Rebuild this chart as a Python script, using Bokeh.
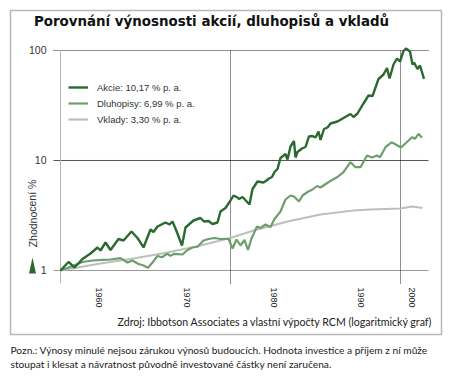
from bokeh.plotting import figure
from bokeh.models import (FixedTicker, Label, Legend, LegendItem, PolyAnnotation)
from bokeh.embed import file_html
from bokeh.resources import INLINE

# ---- data (x = time index, one unit ~ one period of the chart) ----
akcie_t = [0, 1.6, 2.8, 4.4, 6, 7.4, 8, 9, 10, 11.6, 12.6, 14.2, 15.4, 16.6, 18, 18.6, 19.4,
           21, 21.8, 22.4, 23, 24.3, 25, 26.6, 28, 28.7, 29.6, 30.4, 31.4, 32, 33, 34, 34.6,
           35.4, 35.7, 36.4, 37.8, 38.4, 39.4, 40.6, 41.2, 41.7, 42.3, 42.8, 43.4, 44, 45,
           45.4, 46, 46.7, 47, 47.4, 48.3, 49, 49.7, 50.4, 51, 51.6, 52, 52.7, 53.4, 54, 55.4,
           56.6, 58, 58.6, 59.4, 60.6, 61.6, 62.4, 63.6, 64.6, 65.3, 65.8, 66.6, 67.3, 67.9,
           68.6, 69.1, 69.9, 70.4, 70.7, 71.4, 71.9, 72.7]
akcie_v = [1.00, 1.195, 1.065, 1.272, 1.427, 1.619, 1.520, 1.797, 1.536, 1.934, 1.874, 2.262,
           1.975, 1.619, 2.359, 2.239, 2.512, 2.732, 2.620, 2.790, 2.409, 1.688, 2.460, 2.848,
           3.001, 2.790, 2.818, 2.647, 2.732, 3.439, 3.700, 4.329, 4.806, 4.609, 4.467, 4.658,
           3.981, 5.508, 6.444, 6.310, 6.579, 6.861, 7.079, 7.863, 8.372, 10.54, 11.46, 10.21,
           13.41, 15.04, 10.65, 11.95, 12.86, 13.27, 16.53, 16.70, 16.19, 18.34, 15.36, 19.34,
           19.95, 21.70, 22.62, 24.34, 26.47, 24.86, 26.75, 32.98, 38.98, 38.58, 55.08, 60.50,
           69.34, 55.66, 74.60, 84.58, 79.43, 98.97, 104.3, 97.93, 74.60, 77.79, 67.90, 73.04,
           55.31]

dluhopisy_t = [0, 2.4, 4.4, 6.4, 8.4, 10, 12, 13.4, 14.4, 15.5, 16.6, 17.5, 18.4, 19.4, 20.3,
               21.3, 22, 22.8, 24.4, 25.4, 26.4, 27.4, 28.6, 29.6, 30.8, 32, 33.6, 34.4, 35.2,
               36, 36.8, 37.5, 38.2, 39.3, 40, 41, 42, 42.8, 44, 45, 46, 46.7, 47.7, 48.4, 49.4,
               50.4, 51.3, 52, 53.8, 55.4, 56.6, 58, 59, 60, 61.3, 62.3, 63.3, 63.9, 65, 66.2,
               66.8, 68.1, 69.4, 70.3, 70.9, 71.6, 72.3]
dluhopisy_v = [1.00, 1.10, 1.195, 1.233, 1.251, 1.259, 1.294, 1.182, 1.233, 1.151, 1.110, 1.058,
               1.182, 1.355, 1.32, 1.418, 1.36, 1.418, 1.398, 1.536, 1.619, 1.643, 1.874, 1.934,
               1.975, 1.934, 1.942, 1.585, 1.913, 1.688, 1.894, 1.536, 1.954, 2.512, 2.435,
               2.620, 2.486, 2.938, 3.439, 4.420, 4.806, 4.707, 4.239, 4.806, 5.171, 5.450,
               5.864, 5.683, 6.444, 7.079, 7.829, 9.650, 8.693, 8.693, 11.10, 10.65, 11.10,
               10.69, 13.21, 14.58, 14.19, 13.13, 14.88, 16.29, 15.75, 17.49, 16.09]

vklady_t = [0, 4, 8, 14.6, 21.4, 28, 34, 38.6, 45.4, 52, 58.6, 62, 68, 70.4, 72.4]
vklady_v = [1.00, 1.076, 1.158, 1.286, 1.458, 1.688, 1.975, 2.310, 2.790, 3.229, 3.511, 3.585,
            3.662, 3.818, 3.700]

series_names = ["Akcie: 10,17 % p. a.", "Dluhopisy: 6,99 % p. a.", "Vklady: 3,30 % p. a."]
series_colors = ["#2a6a30", "#6e9e6e", "#bcc0bc"]

x_tick_pos = [7.6, 25.2, 42.6, 60.0, 70.2]
x_tick_labels = ["1960", "1970", "1980", "1990", "2000"]
vline_pos = [34, 68]
y_ticks = [1, 10, 100]

title_text = "Porovnání výnosnosti akcií, dluhopisů a vkladů"
ylabel_text = "Zhodnocení %"
source_text = "Zdroj: Ibbotson  Associates a vlastní výpočty RCM (logaritmický graf)"
note_lines = ["Pozn.: Výnosy minulé nejsou zárukou výnosů budoucích. Hodnota investice a příjem z ní může",
              "stoupat i klesat a návratnost původně investované částky není zaručena."]

# plotting area extents (data units)
X_LO, X_HI = -12.0, 77.0          # whole canvas width
Y_LO, Y_HI = 0.11823, 284.8       # whole canvas height (log)
AX_X = -1.4                        # x where the value axis sits
AX_Y = 0.7616                      # y where the time axis sits
GRID_X1 = 73.6
W, H = 445, 372

p = figure(width=W, height=H, x_range=(X_LO, X_HI), y_range=(Y_LO, Y_HI),
           y_axis_type="log", output_backend="svg", toolbar_location=None,
           min_border=0, min_border_left=0, min_border_right=0,
           min_border_top=0, min_border_bottom=0)
p.title.visible = False
p.background_fill_color = "white"
p.border_fill_color = "white"
p.outline_line_color = None
p.xgrid.visible = False
p.ygrid.visible = False

# axes drawn inside the canvas at fixed locations
ya = p.yaxis[0]
ya.fixed_location = AX_X
ya.ticker = FixedTicker(ticks=y_ticks, minor_ticks=[])
ya.major_label_overrides = {t: str(t) for t in y_ticks}
ya.axis_line_color = None
ya.major_tick_line_color = None
ya.minor_tick_line_color = None
ya.major_tick_out = 0
ya.major_tick_in = 0
ya.minor_tick_out = 0
ya.major_label_standoff = 7
ya.major_label_text_font = "Liberation Sans"
ya.major_label_text_font_size = "10.5px"
ya.major_label_text_color = "#333333"

xa = p.xaxis[0]
xa.fixed_location = AX_Y
xa.ticker = FixedTicker(ticks=x_tick_pos, minor_ticks=[])
xa.major_label_overrides = {t: l for t, l in zip(x_tick_pos, x_tick_labels)}
xa.major_label_orientation = "vertical"
xa.axis_line_color = None
xa.major_tick_line_color = None
xa.minor_tick_line_color = None
xa.major_tick_out = 0
xa.major_tick_in = 0
xa.minor_tick_out = 0
xa.major_label_standoff = 4
xa.major_label_text_font = "Liberation Sans"
xa.major_label_text_font_size = "9px"
xa.major_label_text_color = "#222222"

# reference lines
p.segment(x0=[AX_X], y0=[100], x1=[GRID_X1], y1=[100], line_color="#222222", line_width=1, line_dash="1 1")
p.segment(x0=[AX_X], y0=[10], x1=[GRID_X1], y1=[10], line_color="#555555", line_width=1)
p.segment(x0=[AX_X], y0=[1], x1=[GRID_X1], y1=[1], line_color="#999999", line_width=1)
p.segment(x0=[0], y0=[AX_Y], x1=[0], y1=[100], line_color="#b5b5b5", line_width=1)
p.segment(x0=vline_pos, y0=[AX_Y] * len(vline_pos), x1=vline_pos, y1=[100] * len(vline_pos),
          line_color="#222222", line_width=1, line_dash="1 1")

# series
rv = p.line(vklady_t, vklady_v, line_color=series_colors[2], line_width=2.2)
rd = p.line(dluhopisy_t, dluhopisy_v, line_color=series_colors[1], line_width=2.2)
ra = p.line(akcie_t, akcie_v, line_color=series_colors[0], line_width=2.4)

legend = Legend(items=[LegendItem(label=series_names[0], renderers=[ra]),
                       LegendItem(label=series_names[1], renderers=[rd]),
                       LegendItem(label=series_names[2], renderers=[rv])],
                location=(68, 245), padding=0, margin=0, spacing=0,
                glyph_width=20, glyph_height=16, label_height=16, label_standoff=9,
                label_text_font="Liberation Sans", label_text_font_size="9.5px",
                label_text_color="#333333", border_line_color=None,
                background_fill_alpha=0)
p.add_layout(legend)

# frame box and marker (screen units, origin bottom-left of canvas)
p.add_layout(PolyAnnotation(xs=[10, 441, 441, 10], ys=[H - 10, H - 10, H - 334, H - 334],
                            xs_units="screen", ys_units="screen",
                            line_color="#111111", line_width=1.5, fill_alpha=0))
p.add_layout(PolyAnnotation(xs=[28.5, 35.5, 32], ys=[H - 273, H - 273, H - 257],
                            xs_units="screen", ys_units="screen",
                            line_color=None, fill_color="#2a6a30", fill_alpha=1))

# texts
p.add_layout(Label(x=211, y=H - 21, x_units="screen", y_units="screen", text=title_text,
                   text_align="center", text_baseline="middle", text_font="DejaVu Sans",
                   text_font_style="bold", text_font_size="13.4px", text_color="#111111"))
p.add_layout(Label(x=32, y=H - 213, x_units="screen", y_units="screen", text=ylabel_text,
                   angle=1.5708, text_align="center", text_baseline="middle",
                   text_font="Liberation Sans", text_font_size="10.5px", text_color="#333333"))
p.add_layout(Label(x=435, y=H - 321, x_units="screen", y_units="screen", text=source_text,
                   text_align="right", text_baseline="middle", text_font="Lato",
                   text_font_size="10.6px", text_color="#222222"))
for i, line in enumerate(note_lines):
    p.add_layout(Label(x=10, y=H - 349.5 - 13.5 * i, x_units="screen", y_units="screen", text=line,
                       text_align="left", text_baseline="middle", text_font="Lato",
                       text_font_size="10.2px", text_color="#222222"))

open("out.html", "w").write(file_html(p, INLINE))
